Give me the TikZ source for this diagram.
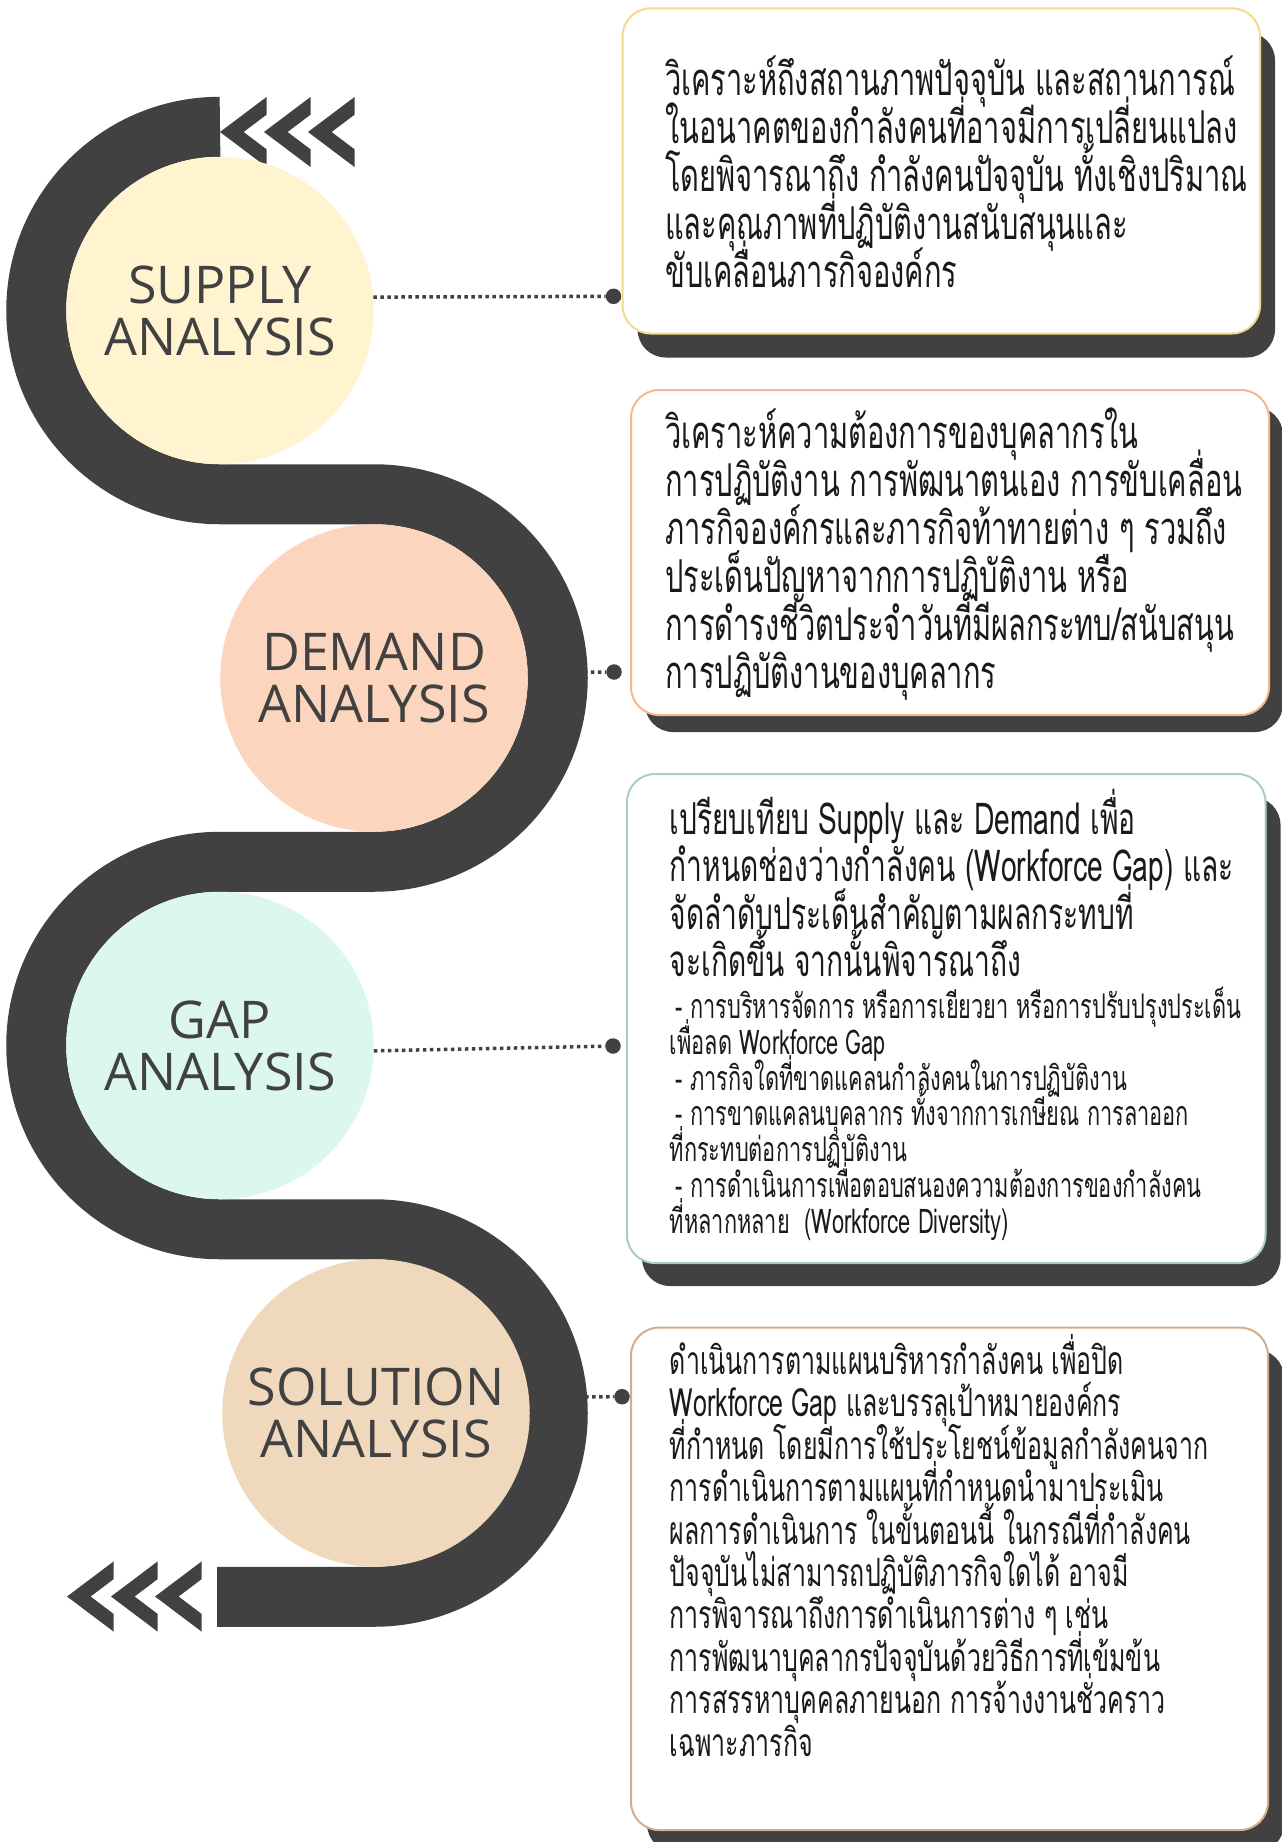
\documentclass[tikz,border=0pt]{standalone}
\usepackage{fontspec}
\usetikzlibrary{shadows}
\newfontfamily\thaifont[Script=Thai,FakeStretch=0.64]{Loma}
\newfontfamily\titlefont{Open Sans}
\definecolor{dark}{HTML}{414141}
\definecolor{ink}{HTML}{1A1A1A}
\definecolor{supplyfill}{HTML}{FFF3D0}
\definecolor{demandfill}{HTML}{FBD5BD}
\definecolor{gapfill}{HTML}{DCF7EC}
\definecolor{solutionfill}{HTML}{F0D8BD}
\definecolor{supplyline}{HTML}{F4DA8C}
\definecolor{demandline}{HTML}{F5B88E}
\definecolor{gapline}{HTML}{A9CEC1}
\definecolor{solutionline}{HTML}{D4AE88}
% stacked lines with a fixed baseline distance; baseline = first line
\newcommand\tlines[2]{\vtop{\baselineskip=#1\lineskiplimit=-1000pt\lineskip=0pt\relax #2}}
\newcommand\tl[1]{\hbox{#1}}
\begin{document}
\begin{tikzpicture}[x=1pt,y=-1pt,
  band/.style={draw=dark,line width=60pt},
  stage/.style={circle,minimum size=307.5pt,inner sep=0pt,align=center,
    text=dark,font=\titlefont\fontsize{52}{52}\selectfont},
  dot/.style={circle,fill=dark,minimum size=15.5pt,inner sep=0pt},
  dotline/.style={draw=dark,line width=3.5pt,dash pattern=on 3.5pt off 3.5pt},
  infobox/.style={rectangle,rounded corners=28pt,fill=white,line width=2pt,inner sep=0pt},
  boxtext/.style={anchor=base west,inner sep=0pt,text=ink,
    font=\thaifont\fontsize{45.3}{48}\selectfont},
  pics/chevron/.style={code={
    \fill[dark] (0,0) -- (46.5,-35) -- (46.5,-17.3) -- (23.6,0)
      -- (46.5,17.3) -- (46.5,35) -- cycle;}}
]
\useasboundingbox (0,0) rectangle (1282,1842);

% serpentine road
\draw[band] (220,126.75)
  arc[start angle=270,end angle=90,radius=183.75] -- (374,494.25)
  arc[start angle=270,end angle=450,radius=183.75] -- (220,861.75)
  arc[start angle=270,end angle=90,radius=183.75] -- (374,1229.25)
  arc[start angle=270,end angle=450,radius=183.75] -- (217,1596.75);

% chevrons at both ends
\foreach \tx in {220,264,308} \pic at (\tx,132) {chevron};
\foreach \tx in {67,111,155} \pic at (\tx,1596.5) {chevron};

% stage circles
\node[stage,fill=supplyfill]   (supply)   at (220,310.5) {SUPPLY\\ANALYSIS};
\node[stage,fill=demandfill]   (demand)   at (374,678)   {DEMAND\\ANALYSIS};
\node[stage,fill=gapfill]      (gap)      at (220,1045.5) {GAP\\ANALYSIS};
\node[stage,fill=solutionfill] (solution) at (376,1413)  {SOLUTION\\ANALYSIS};

% description boxes with offset shadows
\node[infobox,draw=supplyline,minimum width=637.4pt,minimum height=325.2pt,
  general shadow={shadow xshift=15pt,shadow yshift=-24pt,fill=dark}]
  (b1) at (941.3,170.9) {};
\node[infobox,draw=demandline,minimum width=638pt,minimum height=325pt,
  general shadow={shadow xshift=14pt,shadow yshift=-17pt,fill=dark}]
  (b2) at (950,552.5) {};
\node[infobox,draw=gapline,minimum width=638.5pt,minimum height=489pt,
  general shadow={shadow xshift=15pt,shadow yshift=-23pt,fill=dark}]
  (b3) at (946.25,1018.5) {};
\node[infobox,draw=solutionline,minimum width=637pt,minimum height=502.4pt,
  general shadow={shadow xshift=16pt,shadow yshift=-22pt,fill=dark}]
  (b4) at (949.5,1578.8) {};

% connector dots and dotted leaders
\node[dot] (d1) at (613.5,296.3) {};
\node[dot] (d2) at (614,672) {};
\node[dot] (d3) at (613,1046) {};
\node[dot] (d4) at (622,1396.7) {};
\draw[dotline] (supply.5) -- (d1);
\draw[dotline] (demand.2.4) -- (d2);
\draw[dotline] (gap.-2) -- (d3);
\draw[dotline] (solution.6) -- (d4);

% box texts
\node[boxtext] (t1) at (665,95.7) {\tlines{48pt}{%
  \tl{วิเคราะห์ถึงสถานภาพปัจจุบัน และสถานการณ์}%
  \tl{ในอนาคตของกำลังคนที่อาจมีการเปลี่ยนแปลง}%
  \tl{โดยพิจารณาถึง กำลังคนปัจจุบัน ทั้งเชิงปริมาณ}%
  \tl{และคุณภาพที่ปฏิบัติงานสนับสนุนและ}%
  \tl{ขับเคลื่อนภารกิจองค์กร}}};

\node[boxtext] (t2) at (665,448) {\tlines{48pt}{%
  \tl{วิเคราะห์ความต้องการของบุคลากรใน}%
  \tl{การปฏิบัติงาน การพัฒนาตนเอง การขับเคลื่อน}%
  \tl{ภารกิจองค์กรและภารกิจท้าทายต่าง ๆ รวมถึง}%
  \tl{ประเด็นปัญหาจากการปฏิบัติงาน หรือ}%
  \tl{การดำรงชีวิตประจำวันที่มีผลกระทบ/สนับสนุน}%
  \tl{การปฏิบัติงานของบุคลากร}}};

\node[boxtext,font=\thaifont\fontsize{44}{48}\selectfont] (t3) at (669.6,834) {\tlines{47.6pt}{%
  \tl{เปรียบเทียบ Supply และ Demand เพื่อ}%
  \tl{กำหนดช่องว่างกำลังคน (Workforce Gap) และ}%
  \tl{จัดลำดับประเด็นสำคัญตามผลกระทบที่}%
  \tl{จะเกิดขึ้น จากนั้นพิจารณาถึง}%
  \baselineskip=41.6pt
  \tl{\fontsize{34}{36}\selectfont\hspace{6pt}- การบริหารจัดการ หรือการเยียวยา หรือการปรับปรุงประเด็น}%
  \baselineskip=35.8pt
  \tl{\fontsize{34}{36}\selectfont เพื่อลด Workforce Gap}%
  \tl{\fontsize{34}{36}\selectfont\hspace{6pt}- ภารกิจใดที่ขาดแคลนกำลังคนในการปฏิบัติงาน}%
  \tl{\fontsize{34}{36}\selectfont\hspace{6pt}- การขาดแคลนบุคลากร ทั้งจากการเกษียณ การลาออก}%
  \tl{\fontsize{34}{36}\selectfont ที่กระทบต่อการปฏิบัติงาน}%
  \tl{\fontsize{34}{36}\selectfont\hspace{6pt}- การดำเนินการเพื่อตอบสนองความต้องการของกำลังคน}%
  \tl{\fontsize{34}{36}\selectfont ที่หลากหลาย\ \ (Workforce Diversity)}}};

\node[boxtext,font=\thaifont\fontsize{39}{42}\selectfont] (t4) at (669.6,1374.4) {\tlines{42.4pt}{%
  \tl{ดำเนินการตามแผนบริหารกำลังคน เพื่อปิด}%
  \tl{Workforce Gap และบรรลุเป้าหมายองค์กร}%
  \tl{ที่กำหนด โดยมีการใช้ประโยชน์ข้อมูลกำลังคนจาก}%
  \tl{การดำเนินการตามแผนที่กำหนดนำมาประเมิน}%
  \tl{ผลการดำเนินการ ในขั้นตอนนี้ ในกรณีที่กำลังคน}%
  \tl{ปัจจุบันไม่สามารถปฏิบัติภารกิจใดได้ อาจมี}%
  \tl{การพิจารณาถึงการดำเนินการต่าง ๆ เช่น}%
  \tl{การพัฒนาบุคลากรปัจจุบันด้วยวิธีการที่เข้มข้น}%
  \tl{การสรรหาบุคคลภายนอก การจ้างงานชั่วคราว}%
  \tl{เฉพาะภารกิจ}}};
\end{tikzpicture}
\end{document}
